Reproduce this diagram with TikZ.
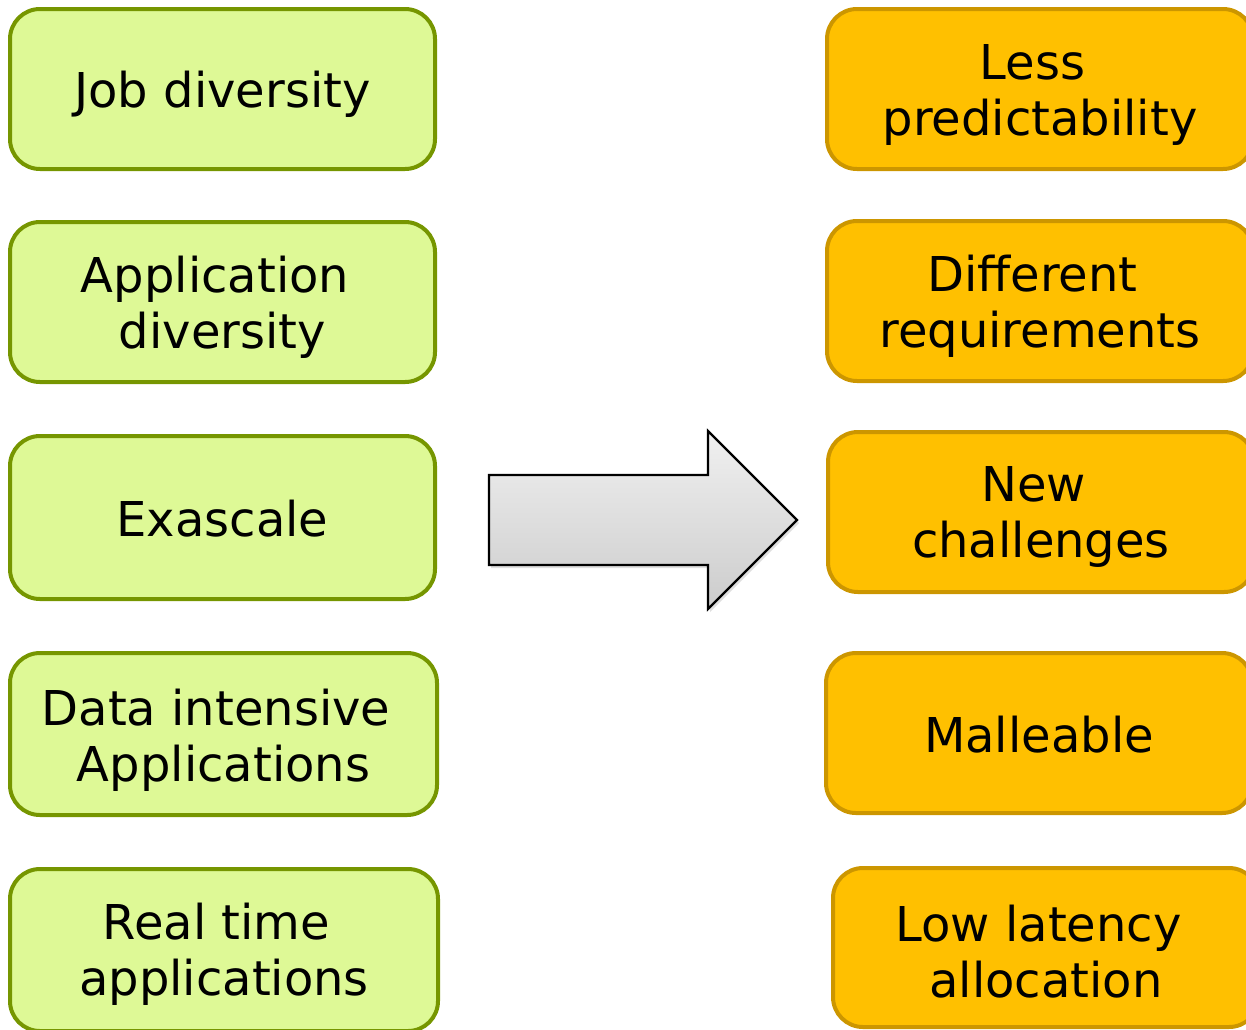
\documentclass[tikz,border=0pt]{standalone}
\usepackage{fontspec}
\setmainfont{DejaVu Sans}
\usetikzlibrary{shadows}
\definecolor{greenfill}{RGB}{222,249,150}
\definecolor{greenline}{RGB}{118,150,0}
\definecolor{orangefill}{RGB}{255,192,0}
\definecolor{orangeline}{RGB}{204,150,0}
\definecolor{arrowtop}{RGB}{240,240,240}
\definecolor{arrowbot}{RGB}{204,204,204}
\newcommand{\lsp}{\hspace*{15pt}}
\tikzset{
  x=1pt, y=-1pt,
  cause/.style={draw=greenline, fill=greenfill, line width=4pt, rounded corners=30pt},
  effect/.style={draw=orangeline, fill=orangefill, line width=4pt, rounded corners=30pt},
  label/.style={align=center, font=\fontsize{48}{56}\selectfont, text=black, inner sep=0pt},
}
\begin{document}
\begin{tikzpicture}
\useasboundingbox (0,0) rectangle (1246,1029);
% left column: causes
\path[cause] (10,9) rectangle (435,169);
\node[label] (c1) at (222.5,94) {Job diversity};
\path[cause] (10,222) rectangle (435,382);
\node[label] (c2) at (222.5,307) {Application\lsp\\diversity};
\path[cause] (10,436) rectangle (435,599);
\node[label] (c3) at (222.5,519) {Exascale};
\path[cause] (10,653) rectangle (437,815);
\node[label] (c4) at (223.5,740) {Data intensive\lsp\\Applications};
\path[cause] (10,869) rectangle (438,1031);
\node[label] (c5) at (224,954) {Real time\lsp\\applications};
% right column: consequences
\path[effect] (827,9) rectangle (1253,169);
\node[label] (e1) at (1040,95) {Less\lsp\\predictability};
\path[effect] (827,221) rectangle (1253,381);
\node[label] (e2) at (1040,306) {Different\lsp\\requirements};
\path[effect] (828,432) rectangle (1254,592);
\node[label] (e3) at (1041,517) {New\lsp\\challenges};
\path[effect] (826,653) rectangle (1252,813);
\node[label] (e4) at (1039,735) {Malleable};
\path[effect] (833,868) rectangle (1259,1027);
\node[label] (e5) at (1046,952) {Low latency\lsp\\allocation};
% block arrow between the columns
\draw[line width=2.2pt, line join=miter, top color=arrowtop, bottom color=arrowbot,
      drop shadow={opacity=0.25, shadow xshift=2pt, shadow yshift=-3pt}]
  (489,475) -- (708,475) -- (708,431) -- (797,520) -- (708,609) -- (708,565) -- (489,565) -- cycle;
\end{tikzpicture}
\end{document}
